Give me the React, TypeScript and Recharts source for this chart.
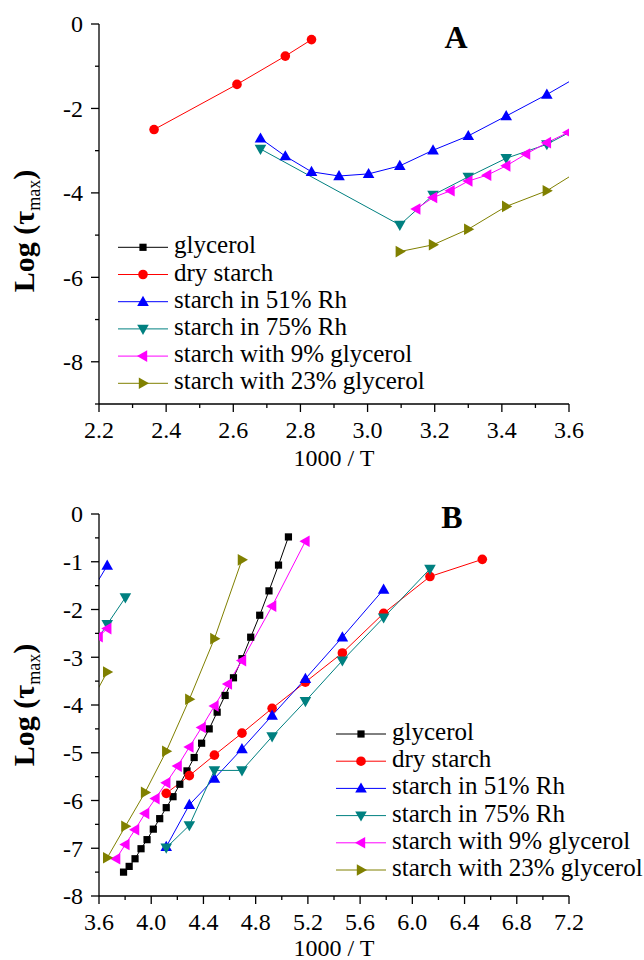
import React from 'react';
import { LineChart, Line, XAxis, YAxis, Legend } from 'recharts';

const FONT = '"Liberation Serif", "Times New Roman", Times, serif';

// 1000/T against Log(tau_max). "hi" = high temperature branch, "lo" = low temperature branch
const glyLoX = [3.788, 3.831, 3.876, 3.922, 3.968, 4.016, 4.065, 4.115, 4.167, 4.219, 4.274, 4.329, 4.386, 4.444, 4.505, 4.566, 4.63, 4.695, 4.762, 4.831, 4.902, 4.975, 5.051];
const glyLoY = [-7.5, -7.38, -7.22, -7.01, -6.82, -6.6, -6.38, -6.15, -5.92, -5.66, -5.38, -5.1, -4.8, -4.5, -4.15, -3.8, -3.43, -3.03, -2.58, -2.12, -1.61, -1.07, -0.48];

const dryHiX = [2.364, 2.611, 2.755, 2.833];
const dryHiY = [-2.5, -1.43, -0.76, -0.37];
const dryLoX = [4.115, 4.292, 4.484, 4.695, 4.926, 5.181, 5.464, 5.78, 6.135, 6.536];
const dryLoY = [-5.85, -5.48, -5.05, -4.59, -4.07, -3.52, -2.91, -2.08, -1.31, -0.95];

const rh51HiX = [2.681, 2.755, 2.833, 2.915, 3.003, 3.096, 3.195, 3.3, 3.413, 3.534, 3.663];
const rh51HiY = [-2.71, -3.13, -3.5, -3.6, -3.55, -3.36, -2.99, -2.65, -2.18, -1.67, -1.08];
const rh51LoX = [4.115, 4.292, 4.484, 4.695, 4.926, 5.181, 5.464, 5.78];
const rh51LoY = [-6.97, -6.09, -5.54, -4.92, -4.22, -3.45, -2.58, -1.58];

const rh75HiX = [2.681, 3.096, 3.195, 3.3, 3.413, 3.534, 3.663, 3.802];
const rh75HiY = [-2.96, -4.76, -4.05, -3.62, -3.18, -2.85, -2.31, -1.75];
const rh75LoX = [4.115, 4.292, 4.484, 4.695, 4.926, 5.181, 5.464, 5.78, 6.135];
const rh75LoY = [-6.99, -6.52, -5.37, -5.37, -4.66, -3.92, -3.07, -2.17, -1.15];

const g9HiX = [3.145, 3.195, 3.247, 3.3, 3.356, 3.413, 3.472, 3.534, 3.597, 3.663];
const g9HiY = [-4.38, -4.11, -3.95, -3.72, -3.58, -3.36, -3.08, -2.81, -2.57, -2.4];
const g9LoX = [3.731, 3.802, 3.876, 3.953, 4.032, 4.115, 4.202, 4.292, 4.386, 4.484, 4.587, 4.695, 4.926, 5.181];
const g9LoY = [-7.22, -6.92, -6.61, -6.27, -5.96, -5.63, -5.28, -4.88, -4.47, -4.02, -3.56, -3.07, -1.93, -0.57];

const g23HiX = [3.096, 3.195, 3.3, 3.413, 3.534, 3.663];
const g23HiY = [-5.39, -5.23, -4.86, -4.32, -3.95, -3.31];
const g23LoX = [3.663, 3.802, 3.953, 4.115, 4.292, 4.484, 4.695];
const g23LoY = [-7.2, -6.54, -5.83, -4.97, -3.88, -2.61, -0.96];

const SERIES = [
  { name: 'glycerol', color: '#000000', shape: 'square', segs: [[glyLoX, glyLoY]] },
  { name: 'dry starch', color: '#ff0000', shape: 'circle', segs: [[dryHiX, dryHiY], [dryLoX, dryLoY]] },
  { name: 'starch in 51% Rh', color: '#0000ff', shape: 'up', segs: [[rh51HiX, rh51HiY], [rh51LoX, rh51LoY]] },
  { name: 'starch in 75% Rh', color: '#008080', shape: 'down', segs: [[rh75HiX, rh75HiY], [rh75LoX, rh75LoY]] },
  { name: 'starch with 9% glycerol', color: '#ff00ff', shape: 'left', segs: [[g9HiX, g9HiY], [g9LoX, g9LoY]] },
  { name: 'starch with 23% glycerol', color: '#808000', shape: 'right', segs: [[g23HiX, g23HiY], [g23LoX, g23LoY]] },
];

// axis ticks
const aXTicks = [2.2, 2.3, 2.4, 2.5, 2.6, 2.7, 2.8, 2.9, 3.0, 3.1, 3.2, 3.3, 3.4, 3.5, 3.6];
const aXMajor = [2.2, 2.4, 2.6, 2.8, 3.0, 3.2, 3.4, 3.6];
const aYTicks = [0, -1, -2, -3, -4, -5, -6, -7, -8, -9];
const aYMajor = [0, -2, -4, -6, -8];
const bXTicks = [3.6, 3.8, 4.0, 4.2, 4.4, 4.6, 4.8, 5.0, 5.2, 5.4, 5.6, 5.8, 6.0, 6.2, 6.4, 6.6, 6.8, 7.0, 7.2];
const bXMajor = [3.6, 4.0, 4.4, 4.8, 5.2, 5.6, 6.0, 6.4, 6.8, 7.2];
const bYTicks = [0, -0.5, -1, -1.5, -2, -2.5, -3, -3.5, -4, -4.5, -5, -5.5, -6, -6.5, -7, -7.5, -8];
const bYMajor = [0, -1, -2, -3, -4, -5, -6, -7, -8];

const isMajor = (list: number[], v: number) => list.some((m) => Math.abs(m - v) < 1e-6);

function Marker({ cx, cy, shape, color }: any) {
  if (cx == null || cy == null) return null;
  switch (shape) {
    case 'square':
      return <rect x={cx - 3.6} y={cy - 3.6} width={7.2} height={7.2} fill={color} />;
    case 'circle':
      return <circle cx={cx} cy={cy} r={4.8} fill={color} />;
    case 'up':
      return <polygon points={`${cx},${cy - 6} ${cx - 5.8},${cy + 4.2} ${cx + 5.8},${cy + 4.2}`} fill={color} />;
    case 'down':
      return <polygon points={`${cx},${cy + 6} ${cx - 5.8},${cy - 4.2} ${cx + 5.8},${cy - 4.2}`} fill={color} />;
    case 'left':
      return <polygon points={`${cx - 6},${cy} ${cx + 4.2},${cy - 5.8} ${cx + 4.2},${cy + 5.8}`} fill={color} />;
    default:
      return <polygon points={`${cx + 6},${cy} ${cx - 4.2},${cy - 5.8} ${cx - 4.2},${cy + 5.8}`} fill={color} />;
  }
}

function XTick({ x, y, payload, majors }: any) {
  const major = isMajor(majors, payload.value);
  return (
    <g>
      <line x1={x} y1={y} x2={x} y2={y + (major ? 8 : 4)} stroke="#000" strokeWidth={1.3} />
      {major && (
        <text x={x} y={y + 34} textAnchor="middle" fontSize={24} fontFamily={FONT} fill="#000">
          {Number(payload.value).toFixed(1)}
        </text>
      )}
    </g>
  );
}

function YTick({ x, y, payload, majors }: any) {
  const major = isMajor(majors, payload.value);
  return (
    <g>
      <line x1={x} y1={y} x2={x - (major ? 8 : 4)} y2={y} stroke="#000" strokeWidth={1.3} />
      {major && (
        <text x={x - 16} y={y} dy="0.35em" textAnchor="end" fontSize={24} fontFamily={FONT} fill="#000">
          {String(payload.value)}
        </text>
      )}
    </g>
  );
}

function Overlay({ letter, letterX, legendX, legendY }: any) {
  return (
    <svg width={644} height={480} style={{ position: 'absolute', left: 0, top: 0 }}>
      <text x={letterX} y={48} textAnchor="middle" fontSize={32} fontWeight="bold" fontFamily={FONT} fill="#000">
        {letter}
      </text>
      {SERIES.map((s, i) => {
        const cy = legendY + i * 27.2;
        return (
          <g key={s.name}>
            <line x1={legendX} y1={cy} x2={legendX + 50} y2={cy} stroke={s.color} strokeWidth={1} />
            <Marker cx={legendX + 25} cy={cy} shape={s.shape} color={s.color} />
            <text x={legendX + 56} y={cy + 6} fontSize={25} fontFamily={FONT} fill="#000">
              {s.name}
            </text>
          </g>
        );
      })}
    </svg>
  );
}

function Panel(props: any) {
  const { top, mTop, xAxisH, xDomain, xTicks, xMajor, yDomain, yTicks, yMajor, titleShift, xTitleDy } = props;
  return (
    <div style={{ position: 'absolute', left: 0, top, width: 644, height: 480 }}>
      <LineChart width={644} height={480} margin={{ top: mTop, right: 75, bottom: 0, left: 0 }}>
        <XAxis
          type="number"
          dataKey="x"
          domain={xDomain}
          allowDataOverflow
          ticks={xTicks}
          interval={0}
          height={xAxisH}
          tickSize={0}
          tickMargin={0}
          tickLine={false}
          axisLine={{ stroke: '#000', strokeWidth: 1.3 }}
          tick={(p: any) => <XTick {...p} majors={xMajor} />}
          label={(p: any) => {
            const vb = p.viewBox || { x: 99, y: 480 - xAxisH, width: 470 };
            return (
              <text x={vb.x + vb.width / 2} y={vb.y + xTitleDy} textAnchor="middle" fontSize={24} fontFamily={FONT} fill="#000">
                1000 / T
              </text>
            );
          }}
        />
        <YAxis
          type="number"
          dataKey="y"
          domain={yDomain}
          allowDataOverflow
          ticks={yTicks}
          interval={0}
          width={99}
          tickSize={0}
          tickMargin={0}
          tickLine={false}
          axisLine={{ stroke: '#000', strokeWidth: 1.3 }}
          tick={(p: any) => <YTick {...p} majors={yMajor} />}
          label={(p: any) => {
            const vb = p.viewBox || { y: mTop, height: 480 - mTop - xAxisH };
            const cy = vb.y + vb.height / 2 + titleShift;
            return (
              <text transform={`translate(34,${cy}) rotate(-90)`} textAnchor="middle" fontFamily={FONT} fill="#000" fontSize={30} fontWeight="bold">
                Log (τ
                <tspan fontSize={18} fontWeight="normal" dy={6}>max</tspan>
                <tspan dy={-6}>)</tspan>
              </text>
            );
          }}
        />
        {SERIES.flatMap((s) =>
          s.segs.map((seg, k) => (
            <Line
              key={`${s.name}-${k}`}
              data={seg[0].map((x, i) => ({ x, y: seg[1][i] }))}
              dataKey="y"
              name={s.name}
              type="linear"
              stroke={s.color}
              strokeWidth={1}
              isAnimationActive={false}
              activeDot={false}
              dot={(d: any) => <Marker key={`m-${d.index}`} cx={d.cx} cy={d.cy} shape={s.shape} color={s.color} />}
            />
          ))
        )}
        <Legend
          layout="vertical"
          align="center"
          verticalAlign="middle"
          wrapperStyle={{ left: 0, top: 0, width: 644, height: 480 }}
          content={() => <Overlay {...props} />}
        />
      </LineChart>
    </div>
  );
}

export default function App() {
  return (
    <div style={{ position: 'absolute', left: 0, top: 0, width: 644, height: 960, background: '#fff' }}>
      <Panel
        top={0}
        mTop={24}
        xAxisH={76}
        xDomain={[2.2, 3.6]}
        xTicks={aXTicks}
        xMajor={aXMajor}
        yDomain={[-9, 0]}
        yTicks={aYTicks}
        yMajor={aYMajor}
        titleShift={17}
        xTitleDy={62}
        letter="A"
        letterX={456}
        legendX={118}
        legendY={247.3}
      />
      <Panel
        top={480}
        mTop={34}
        xAxisH={64}
        xDomain={[3.6, 7.2]}
        xTicks={bXTicks}
        xMajor={bXMajor}
        yDomain={[-8, 0]}
        yTicks={bYTicks}
        yMajor={bYMajor}
        titleShift={0}
        xTitleDy={60}
        letter="B"
        letterX={452}
        legendX={336}
        legendY={254}
      />
    </div>
  );
}
